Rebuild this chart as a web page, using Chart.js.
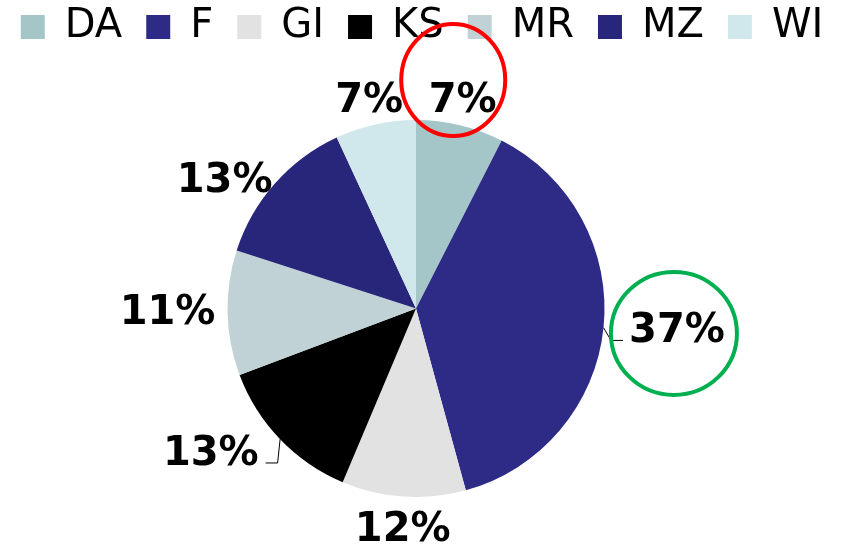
<!DOCTYPE html>
<html>
<head>
<meta charset="utf-8">
<script src="https://cdn.jsdelivr.net/npm/chart.js@4.4.0/dist/chart.umd.min.js"></script>
<style>
  html, body { margin: 0; padding: 0; background: #fff; overflow: hidden; width: 844px; height: 545px; }
  #wrap { position: absolute; left: -12px; top: 0; width: 856px; height: 560px; }
</style>
</head>
<body>
<div id="wrap"><canvas id="pieChart"></canvas></div>
<script>
// Chart data
const categories = ['DA', 'F', 'GI', 'KS', 'MR', 'MZ', 'WI'];
const shares = [7.5, 38.2, 10.6, 12.9, 10.7, 13.1, 6.9];
const pctLabels = ['7%', '37%', '12%', '13%', '11%', '13%', '7%'];

// Look
const sliceColors = ['#a5c6c9', '#2e2b87', '#e2e2e2', '#000000', '#c1d2d6', '#28267a', '#d0e7eb'];

// Label placement, relative to each slice (turn in degrees, distance in radii)
const labelTurn = [-1.0, -1.6, -0.3, 9.2, 1.2, -7.1, -0.1];
const labelDist = [1.144, 1.388, 1.161, 1.324, 1.318, 1.231, 1.144];
const hasLeader = [false, true, false, true, false, false, false];

// Hand-drawn circles around two of the labels
const highlights = [
    { index: 0, color: '#ff0000', dx: -9.5, dy: -18, rx: 52, ry: 56 },
    { index: 1, color: '#00b050', dx: -3, dy: 5.5, rx: 63, ry: 61.5 }
];

const labelFont = 'bold 40px "DejaVu Sans"';
const capHalf = 14.5;

function labelCenter(arc, i) {
    const mid = (arc.startAngle + arc.endAngle) / 2 + labelTurn[i] * Math.PI / 180;
    const d = arc.outerRadius * labelDist[i];
    return { x: arc.x + Math.cos(mid) * d, y: arc.y + Math.sin(mid) * d, mid: (arc.startAngle + arc.endAngle) / 2 };
}

const pieLabels = {
    id: 'pieLabels',
    afterDatasetsDraw(chart) {
        const ctx = chart.ctx;
        const arcs = chart.getDatasetMeta(0).data;
        ctx.save();
        ctx.font = labelFont;
        ctx.fillStyle = '#000';
        ctx.textAlign = 'center';
        ctx.textBaseline = 'alphabetic';
        arcs.forEach((arc, i) => {
            const c = labelCenter(arc, i);
            const txt = pctLabels[i];
            ctx.fillText(txt, c.x, c.y + capHalf);

            if (hasLeader[i]) {
                const w = ctx.measureText(txt).width;
                const sx = arc.x + Math.cos(c.mid) * arc.outerRadius;
                const sy = arc.y + Math.sin(c.mid) * arc.outerRadius;
                const onRight = c.x > arc.x;
                const ex = onRight ? c.x - w / 2 - 6 : c.x + w / 2 + 7;
                const ey = c.y + capHalf - 2;
                const bx = onRight ? ex - 12 : ex + 12;
                ctx.beginPath();
                ctx.strokeStyle = '#000';
                ctx.lineWidth = 1;
                ctx.moveTo(sx, sy);
                ctx.lineTo(bx, ey);
                ctx.lineTo(ex, ey);
                ctx.stroke();
            }
        });

        highlights.forEach(h => {
            const c = labelCenter(arcs[h.index], h.index);
            ctx.beginPath();
            ctx.strokeStyle = h.color;
            ctx.lineWidth = 4;
            ctx.ellipse(c.x + h.dx, c.y + h.dy, h.rx, h.ry, 0, 0, Math.PI * 2);
            ctx.stroke();
        });
        ctx.restore();
    }
};

// nudge the legend row a little right of the pie's centre
const legendShift = {
    id: 'legendShift',
    afterLayout(chart) {
        chart.legend.left += 6;
        chart.legend.right += 6;
    }
};

const ctx = document.getElementById('pieChart').getContext('2d');
const pieChart = new Chart(ctx, {
    type: 'pie',
    data: {
        labels: categories,
        datasets: [{
            data: shares,
            backgroundColor: sliceColors,
            borderWidth: 0,
            radius: 188.5
        }]
    },
    options: {
        responsive: true,
        maintainAspectRatio: false,
        animation: false,
        layout: {
            padding: { top: -17, right: 0, bottom: 0, left: 0 }
        },
        plugins: {
            tooltip: { enabled: false },
            legend: {
                position: 'top',
                labels: {
                    boxWidth: 24,
                    boxHeight: 24,
                    padding: 24,
                    color: '#000',
                    font: { family: '"DejaVu Sans"', size: 40 }
                }
            }
        }
    },
    plugins: [pieLabels, legendShift]
});
</script>
</body>
</html>
